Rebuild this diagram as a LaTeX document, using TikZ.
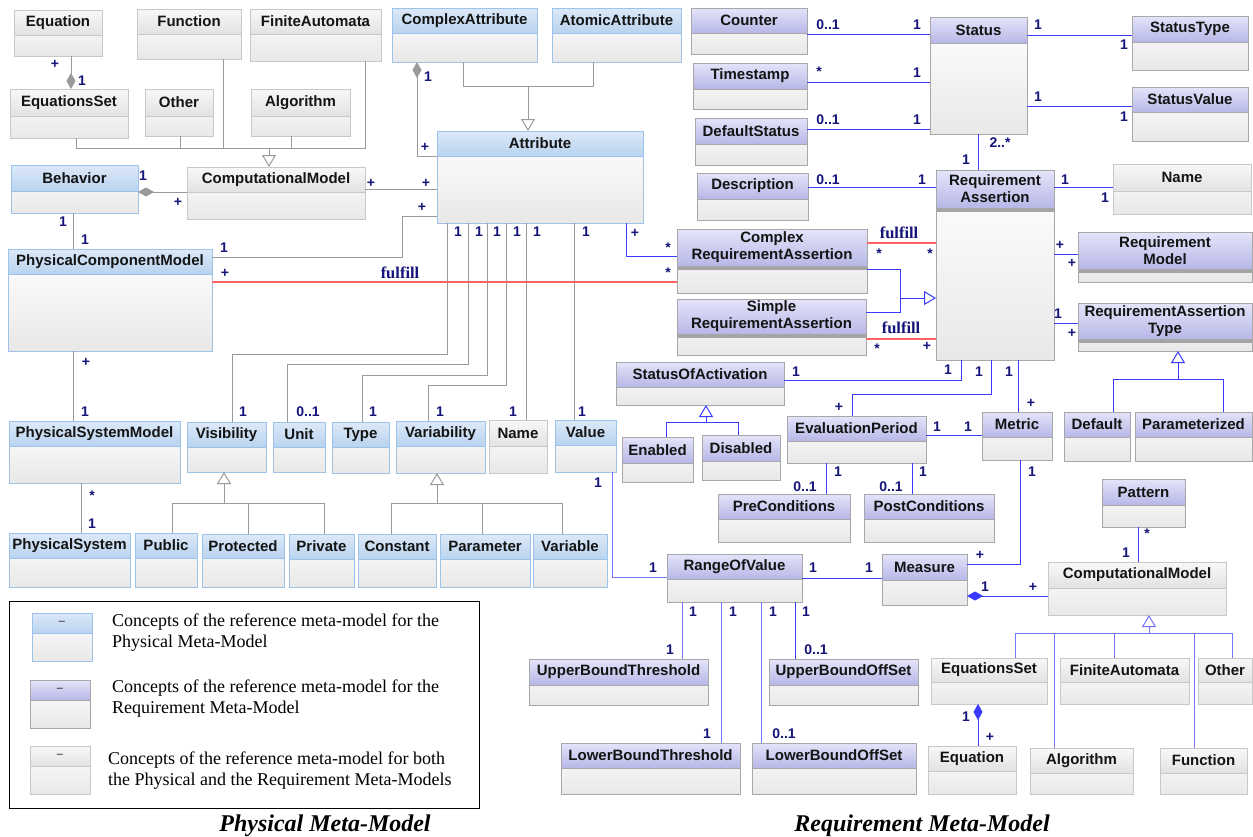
\documentclass[tikz,border=0pt]{standalone}
\usepackage{fontspec}
\setmainfont{Liberation Serif}
\newfontfamily\sansf{Liberation Sans}
\usetikzlibrary{arrows.meta}

\definecolor{navy}{HTML}{14147A}
\definecolor{phtop}{HTML}{DCE9F8}
\definecolor{phbot}{HTML}{B9D3EF}
\definecolor{phedge}{HTML}{9DC3E8}
\definecolor{rqtop}{HTML}{E4E4FA}
\definecolor{rqbot}{HTML}{B7B7E7}
\definecolor{rqedge}{HTML}{A8A8A8}
\definecolor{bttop}{HTML}{F8F8F8}
\definecolor{btbot}{HTML}{E2E2E2}
\definecolor{btedge}{HTML}{C8C8C8}
\definecolor{bodybot}{HTML}{E8E8E8}
\definecolor{bandgray}{HTML}{A4A4A4}
\definecolor{grayline}{HTML}{9A9A9A}
\definecolor{blueline}{HTML}{3A3AFF}
\definecolor{lightblue}{HTML}{7474FF}
\definecolor{redline}{HTML}{FF6464}

\tikzset{
  ph/.style={draw=phedge},
  ph head/.style={top color=phtop,bottom color=phbot},
  rq/.style={draw=rqedge},
  rq head/.style={top color=rqtop,bottom color=rqbot},
  bt/.style={draw=btedge},
  bt head/.style={top color=bttop,bottom color=btbot},
  clsnode/.style={rectangle,inner sep=0pt,outer sep=0pt,top color=white,bottom color=bodybot,line width=1pt},
  clstitle/.style={inner sep=0pt,font=\sansf\bfseries\fontsize{15}{17}\selectfont,align=center,text=black!92},
  lbl/.style={inner sep=0pt,font=\sansf\bfseries\fontsize{14}{16}\selectfont,text=navy},
  fulf/.style={inner sep=0pt,font=\bfseries\fontsize{16.5}{18}\selectfont,text=navy},
  gl/.style={draw=grayline,line width=1pt},
  bl/.style={draw=blueline,line width=1pt},
  lbline/.style={draw=lightblue,line width=1pt},
  rl/.style={draw=redline,line width=1.3pt},
  inh/.style={arrows={-Triangle[open,length=12pt,width=14pt]}},
  compo/.style={arrows={Diamond[length=16pt,width=9pt]-}},
  legtext/.style={inner sep=0pt,anchor=west,align=left,font=\fontsize{18}{21}\selectfont},
  caption/.style={inner sep=0pt,anchor=base,font=\bfseries\itshape\fontsize{24}{28}\selectfont}
}

% \umlcls[band]{name}{look}{x1}{y1}{x2}{y2}{header bottom}{title}
\newcommand\umlcls[9][0]{%
  \node[clsnode,#3,minimum width=#6pt-#4pt,minimum height=#7pt-#5pt,anchor=north west] (#2) at (#4,#5) {};
  \shade[#3 head] (#4,#5) rectangle (#6,#8);
  \ifdim#1pt>0pt \fill[bandgray] (#4,#8) rectangle (#6,#8+#1);\fi
  \draw[#3,line width=1pt] (#4,#8) -- (#6,#8);
  \draw[#3,line width=1pt] (#4,#5) rectangle (#6,#7);
  \node[clstitle] (#2-t) at ({(#4+#6)/2},{(#5+#8)/2}) {#9};
}

\begin{document}
\begin{tikzpicture}[x=1pt,y=-1pt]
\useasboundingbox (0,0) rectangle (1253,836);
\fill[white] (0,0) rectangle (1253,836);

% ---------- physical meta-model classes ----------
\umlcls{phEq}{bt}{14}{10}{102}{56}{35}{Equation}
\umlcls{phFun}{bt}{137}{9}{241}{59}{34}{Function}
\umlcls{phFA}{bt}{250}{9}{381}{61}{34}{FiniteAutomata}
\umlcls{cxAttr}{ph}{392}{8}{537}{62}{33}{ComplexAttribute}
\umlcls{atAttr}{ph}{552}{8}{681}{62}{33}{AtomicAttribute}
\umlcls{phEqSet}{bt}{10}{89}{128}{138}{116}{EquationsSet}
\umlcls{phOther}{bt}{145}{89}{213}{136}{116}{Other}
\umlcls{phAlg}{bt}{251}{89}{350}{136}{116}{Algorithm}
\umlcls{behavior}{ph}{11}{165}{138}{213}{191}{Behavior}
\umlcls{phCM}{bt}{187}{167}{365}{219}{192}{ComputationalModel}
\umlcls{attribute}{ph}{437}{131}{643}{223}{156}{Attribute}
\umlcls{pcm}{ph}{8}{249}{212}{351}{274}{PhysicalComponentModel}
\umlcls{psm}{ph}{9}{421}{180}{483}{446}{PhysicalSystemModel}
\umlcls{visibility}{ph}{187}{422}{266}{472}{447}{Visibility}
\umlcls{unit}{ph}{273}{422}{325}{472}{447}{Unit}
\umlcls{type}{ph}{332}{422}{389}{473}{447}{Type}
\umlcls{variability}{ph}{396}{421}{485}{473}{446}{Variability}
\umlcls{phName}{bt}{489}{420}{547}{473}{446}{Name}
\umlcls{value}{ph}{555}{420}{616}{472}{445}{Value}
\umlcls{psys}{ph}{9}{533}{130}{587}{558}{PhysicalSystem}
\umlcls{public}{ph}{135}{533}{197}{587}{558}{Public}
\umlcls{protected}{ph}{202}{534}{284}{587}{558}{Protected}
\umlcls{private}{ph}{289}{534}{354}{587}{559}{Private}
\umlcls{constant}{ph}{358}{534}{436}{587}{559}{Constant}
\umlcls{parameter}{ph}{440}{534}{530}{587}{559}{Parameter}
\umlcls{variable}{ph}{533}{534}{607}{587}{559}{Variable}

% ---------- requirement meta-model classes ----------
\umlcls{counter}{rq}{691}{8}{807}{54}{33}{Counter}
\umlcls{timestamp}{rq}{693}{63}{807}{109}{89}{Timestamp}
\umlcls{defstatus}{rq}{695}{118}{807}{165}{144}{DefaultStatus}
\umlcls{description}{rq}{697}{173}{808}{220}{199}{Description}
\umlcls{status}{rq}{930}{17}{1027}{134}{43}{Status}
\umlcls{statustype}{rq}{1132}{16}{1248}{70}{42}{StatusType}
\umlcls{statusvalue}{rq}{1132}{87}{1248}{141}{112}{StatusValue}
\umlcls[4]{ra}{rq}{936}{170}{1054}{360}{208}{Requirement\\Assertion}
\umlcls{name}{bt}{1113}{164}{1251}{214}{191}{Name}
\umlcls[4]{cra}{rq}{677}{229}{867}{293}{266}{Complex\\RequirementAssertion}
\umlcls[4]{sra}{rq}{677}{299}{866}{355}{334}{Simple\\RequirementAssertion}
\umlcls[4]{rm}{rq}{1078}{232}{1252}{282}{269}{Requirement\\Model}
\umlcls[4]{rat}{rq}{1078}{303}{1252}{351}{339}{RequirementAssertion\\Type}
\umlcls{soa}{rq}{616}{362}{784}{405}{387}{StatusOfActivation}
\umlcls{enabled}{rq}{622}{437}{693}{482}{463}{Enabled}
\umlcls{disabled}{rq}{702}{435}{780}{480}{461}{Disabled}
\umlcls{evalp}{rq}{787}{416}{926}{463}{441}{EvaluationPeriod}
\umlcls{metric}{rq}{982}{412}{1052}{460}{437}{Metric}
\umlcls{default}{rq}{1064}{412}{1130}{461}{437}{Default}
\umlcls{parameterized}{rq}{1135}{412}{1252}{461}{437}{Parameterized}
\umlcls{pre}{rq}{718}{494}{850}{542}{519}{PreConditions}
\umlcls{post}{rq}{864}{494}{994}{542}{519}{PostConditions}
\umlcls{pattern}{rq}{1102}{479}{1185}{527}{505}{Pattern}
\umlcls{rov}{rq}{667}{554}{802}{602}{579}{RangeOfValue}
\umlcls{measure}{rq}{882}{554}{967}{605}{580}{Measure}
\umlcls{rqCM}{bt}{1048}{562}{1226}{615}{588}{ComputationalModel}
\umlcls{ubt}{rq}{529}{659}{708}{705}{685}{UpperBoundThreshold}
\umlcls{ubo}{rq}{769}{659}{918}{705}{685}{UpperBoundOffSet}
\umlcls{lbt}{rq}{561}{743}{740}{794}{768}{LowerBoundThreshold}
\umlcls{lbo}{rq}{752}{743}{916}{794}{768}{LowerBoundOffSet}
\umlcls{rqEqSet}{bt}{931}{658}{1047}{704}{682}{EquationsSet}
\umlcls{rqFA}{bt}{1060}{658}{1189}{704}{682}{FiniteAutomata}
\umlcls{rqOther}{bt}{1198}{658}{1252}{704}{682}{Other}
\umlcls{rqEq}{bt}{928}{746}{1016}{794}{771}{Equation}
\umlcls{rqAlg}{bt}{1030}{748}{1133}{794}{773}{Algorithm}
\umlcls{rqFun}{bt}{1160}{748}{1247}{794}{773}{Function}

% ---------- physical connectors ----------
\draw[gl,compo] (phEqSet.north -| 71,0) -- (phEq.south -| 71,0)
  node[lbl] at (55,64) {+} node[lbl] at (82,81) {1};
\draw[gl] (phEqSet.south -| 76,0) |- (365,148) -- (phFA.south -| 365,0);
\draw[gl] (phOther.south -| 180,0) -- (180,148);
\draw[gl] (phFun.south -| 223,0) -- (223,148);
\draw[gl] (phAlg.south -| 291,0) -- (291,148);
\draw[gl,inh] (269,148) -- (phCM.north -| 269,0);

\draw[gl,compo] (cxAttr.south -| 417,0) |- (attribute.west |- 0,156)
  node[lbl] at (428,77) {1} node[lbl] at (425,147) {+};
\draw[gl] (cxAttr.south -| 463,0) |- (593,86) -- (atAttr.south -| 593,0);
\draw[gl,inh] (528,86) -- (attribute.north -| 528,0);

\draw[gl,compo] (behavior.east |- 0,192) -- (phCM.west |- 0,192)
  node[lbl] at (143,176) {1} node[lbl] at (178,202) {+};
\draw[gl] (phCM.east |- 0,189) -- (attribute.west |- 0,189)
  node[lbl] at (371,183) {+} node[lbl] at (426,183) {+};
\draw[gl] (behavior.south -| 73,0) -- (pcm.north -| 73,0)
  node[lbl] at (63,222) {1} node[lbl] at (85,240) {1};
\draw[gl] (pcm.east |- 0,257) -| (402,216) -- (attribute.west |- 0,216)
  node[lbl] at (224,248) {1} node[lbl] at (422,207) {+};
\draw[gl] (pcm.south -| 73,0) -- (psm.north -| 73,0)
  node[lbl] at (86,362) {+} node[lbl] at (85,412) {1};
\draw[gl] (psm.south -| 81,0) -- (psys.north -| 81,0)
  node[lbl] at (92,496) {*} node[lbl] at (92,524) {1};

\draw[gl] (attribute.south -| 447,0) |- (232,354) -- (visibility.north -| 232,0)
  node[lbl] at (458,232) {1} node[lbl] at (243,412) {1};
\draw[gl] (attribute.south -| 468,0) |- (287,364) -- (unit.north -| 287,0)
  node[lbl] at (479,232) {1} node[lbl] at (308,412) {0..1};
\draw[gl] (attribute.south -| 487,0) |- (362,375) -- (type.north -| 362,0)
  node[lbl] at (497,232) {1} node[lbl] at (373,412) {1};
\draw[gl] (attribute.south -| 506,0) |- (428,385) -- (variability.north -| 428,0)
  node[lbl] at (517,232) {1} node[lbl] at (440,412) {1};
\draw[gl] (attribute.south -| 526,0) -- (phName.north -| 526,0)
  node[lbl] at (537,232) {1} node[lbl] at (513,412) {1};
\draw[gl] (attribute.south -| 574,0) -- (value.north -| 574,0)
  node[lbl] at (586,232) {1} node[lbl] at (582,412) {1};

\draw[gl] (public.north -| 172,0) |- (324,503) -- (private.north -| 324,0);
\draw[gl] (protected.north -| 248,0) -- (248,503);
\draw[gl,inh] (224,503) -- (visibility.south -| 224,0);
\draw[gl] (constant.north -| 391,0) |- (562,503) -- (variable.north -| 562,0);
\draw[gl] (parameter.north -| 482,0) -- (482,503);
\draw[gl,inh] (437,503) -- (variability.south -| 437,0);

% ---------- links between the two meta-models ----------
\draw[rl] (pcm.east |- 0,282) -- (cra.west |- 0,282)
  node[lbl] at (225,273) {+} node[fulf] at (400,273) {fulfill} node[lbl] at (668,273) {*};
\draw[bl] (attribute.south -| 626,0) |- (cra.west |- 0,256)
  node[lbl] at (635,233) {+} node[lbl] at (668,248) {*};
\draw[lbline] (value.south -| 612,0) |- (rov.west |- 0,577)
  node[lbl] at (598,483) {1} node[lbl] at (653,568) {1};

% ---------- requirement connectors ----------
\draw[bl] (counter.east |- 0,34) -- (status.west |- 0,34)
  node[lbl] at (828,25) {0..1} node[lbl] at (917,25) {1};
\draw[bl] (timestamp.east |- 0,82) -- (status.west |- 0,82)
  node[lbl] at (819,72) {*} node[lbl] at (917,73) {1};
\draw[bl] (defstatus.east |- 0,129) -- (status.west |- 0,129)
  node[lbl] at (828,120) {0..1} node[lbl] at (917,120) {1};
\draw[bl] (status.east |- 0,35) -- (statustype.west |- 0,35)
  node[lbl] at (1038,25) {1} node[lbl] at (1124,45) {1};
\draw[bl] (status.east |- 0,106) -- (statusvalue.west |- 0,106)
  node[lbl] at (1038,97) {1} node[lbl] at (1124,117) {1};
\draw[bl] (status.south -| 978,0) -- (ra.north -| 978,0)
  node[lbl] at (1000,143) {2..*} node[lbl] at (966,160) {1};
\draw[bl] (description.east |- 0,187) -- (ra.west |- 0,187)
  node[lbl] at (828,180) {0..1} node[lbl] at (922,180) {1};
\draw[bl] (ra.east |- 0,187) -- (name.west |- 0,187)
  node[lbl] at (1065,180) {1} node[lbl] at (1105,198) {1};

\draw[rl] (cra.east |- 0,243) -- (ra.west |- 0,243)
  node[fulf] at (899,233) {fulfill} node[lbl] at (879,254) {*} node[lbl] at (930,254) {*};
\draw[bl] (cra.east |- 0,269) -| (900,312) -- (sra.east |- 0,312);
\draw[bl,inh] (900,298) -- (ra.west |- 0,298);
\draw[rl] (sra.east |- 0,339) -- (ra.west |- 0,339)
  node[fulf] at (901,328) {fulfill} node[lbl] at (877,349) {*} node[lbl] at (927,346) {+};
\draw[bl] (ra.east |- 0,254) -- (rm.west |- 0,254)
  node[lbl] at (1060,245) {+} node[lbl] at (1072,263) {+};
\draw[bl] (ra.east |- 0,323) -- (rat.west |- 0,323)
  node[lbl] at (1058,314) {1} node[lbl] at (1072,333) {+};
\draw[bl] (default.north -| 1113,0) |- (1223,379) -- (parameterized.north -| 1223,0);
\draw[bl,inh] (1178,379) -- (rat.south -| 1178,0);

\draw[bl] (ra.south -| 961,0) |- (soa.east |- 0,380)
  node[lbl] at (948,370) {1} node[lbl] at (796,372) {1};
\draw[bl] (ra.south -| 991,0) |- (852,394) -- (evalp.north -| 852,0)
  node[lbl] at (979,372) {1} node[lbl] at (839,407) {+};
\draw[bl] (ra.south -| 1018,0) -- (metric.north -| 1018,0)
  node[lbl] at (1009,372) {1} node[lbl] at (1031,403) {+};
\draw[bl] (enabled.north -| 666,0) |- (738,422) -- (disabled.north -| 738,0);
\draw[bl,inh] (706,422) -- (soa.south -| 706,0);

\draw[bl] (evalp.east |- 0,435) -- (metric.west |- 0,435)
  node[lbl] at (937,427) {1} node[lbl] at (968,427) {1};
\draw[bl] (evalp.south -| 826,0) -- (pre.north -| 826,0)
  node[lbl] at (838,472) {1} node[lbl] at (805,487) {0..1};
\draw[bl] (evalp.south -| 912,0) -- (post.north -| 912,0)
  node[lbl] at (923,472) {1} node[lbl] at (891,487) {0..1};
\draw[bl] (metric.south -| 1020,0) |- (measure.east |- 0,564)
  node[lbl] at (1032,472) {1} node[lbl] at (980,555) {+};
\draw[bl] (pattern.south -| 1138,0) -- (rqCM.north -| 1138,0)
  node[lbl] at (1147,534) {*} node[lbl] at (1126,553) {1};
\draw[bl] (rov.east |- 0,578) -- (measure.west |- 0,578)
  node[lbl] at (813,568) {1} node[lbl] at (869,568) {1};
\draw[bl,compo] (measure.east |- 0,596) -- (rqCM.west |- 0,596)
  node[lbl] at (985,587) {1} node[lbl] at (1033,587) {+};

\draw[lbline] (rov.south -| 682,0) -- (ubt.north -| 682,0)
  node[lbl] at (693,612) {1} node[lbl] at (670,650) {1};
\draw[lbline] (rov.south -| 721,0) -- (lbt.north -| 721,0)
  node[lbl] at (733,612) {1} node[lbl] at (707,734) {1};
\draw[lbline] (rov.south -| 761,0) -- (lbo.north -| 761,0)
  node[lbl] at (773,612) {1} node[lbl] at (784,734) {0..1};
\draw[bl] (rov.south -| 795,0) -- (ubo.north -| 795,0)
  node[lbl] at (806,612) {1} node[lbl] at (816,650) {0..1};

\draw[lbline] (rqEqSet.north -| 1015,0) |- (1232,633) -- (rqOther.north -| 1232,0);
\draw[lbline] (rqAlg.north -| 1054,0) -- (1054,633);
\draw[lbline] (rqFA.north -| 1114,0) -- (1114,633);
\draw[lbline] (rqFun.north -| 1194,0) -- (1194,633);
\draw[lbline,inh] (1149,633) -- (rqCM.south -| 1149,0);
\draw[bl,compo] (rqEqSet.south -| 978,0) -- (rqEq.north -| 978,0)
  node[lbl] at (966,717) {1} node[lbl] at (990,737) {+};

% ---------- legend ----------
\draw[black,line width=1pt] (9,601) rectangle (479,808);
\umlcls{lg1}{ph}{32}{613}{92}{661}{633}{\normalfont\sansf\fontsize{11}{11}\selectfont –}
\umlcls{lg2}{rq}{30}{680}{90}{728}{700}{\normalfont\sansf\fontsize{11}{11}\selectfont –}
\umlcls{lg3}{bt}{30}{746}{90}{794}{766}{\normalfont\sansf\fontsize{11}{11}\selectfont –}
\node[legtext] (lgt1) at (112,633) {Concepts of the reference meta-model for the\\Physical Meta-Model};
\node[legtext] (lgt2) at (112,699) {Concepts of the reference meta-model for the\\Requirement Meta-Model};
\node[legtext] (lgt3) at (108,771) {Concepts of the reference meta-model for both\\the Physical and the Requirement Meta-Models};

% ---------- captions ----------
\node[caption] (capPhys) at (325,831) {Physical Meta-Model};
\node[caption] (capReq) at (922,831) {Requirement Meta-Model};
\end{tikzpicture}
\end{document}
